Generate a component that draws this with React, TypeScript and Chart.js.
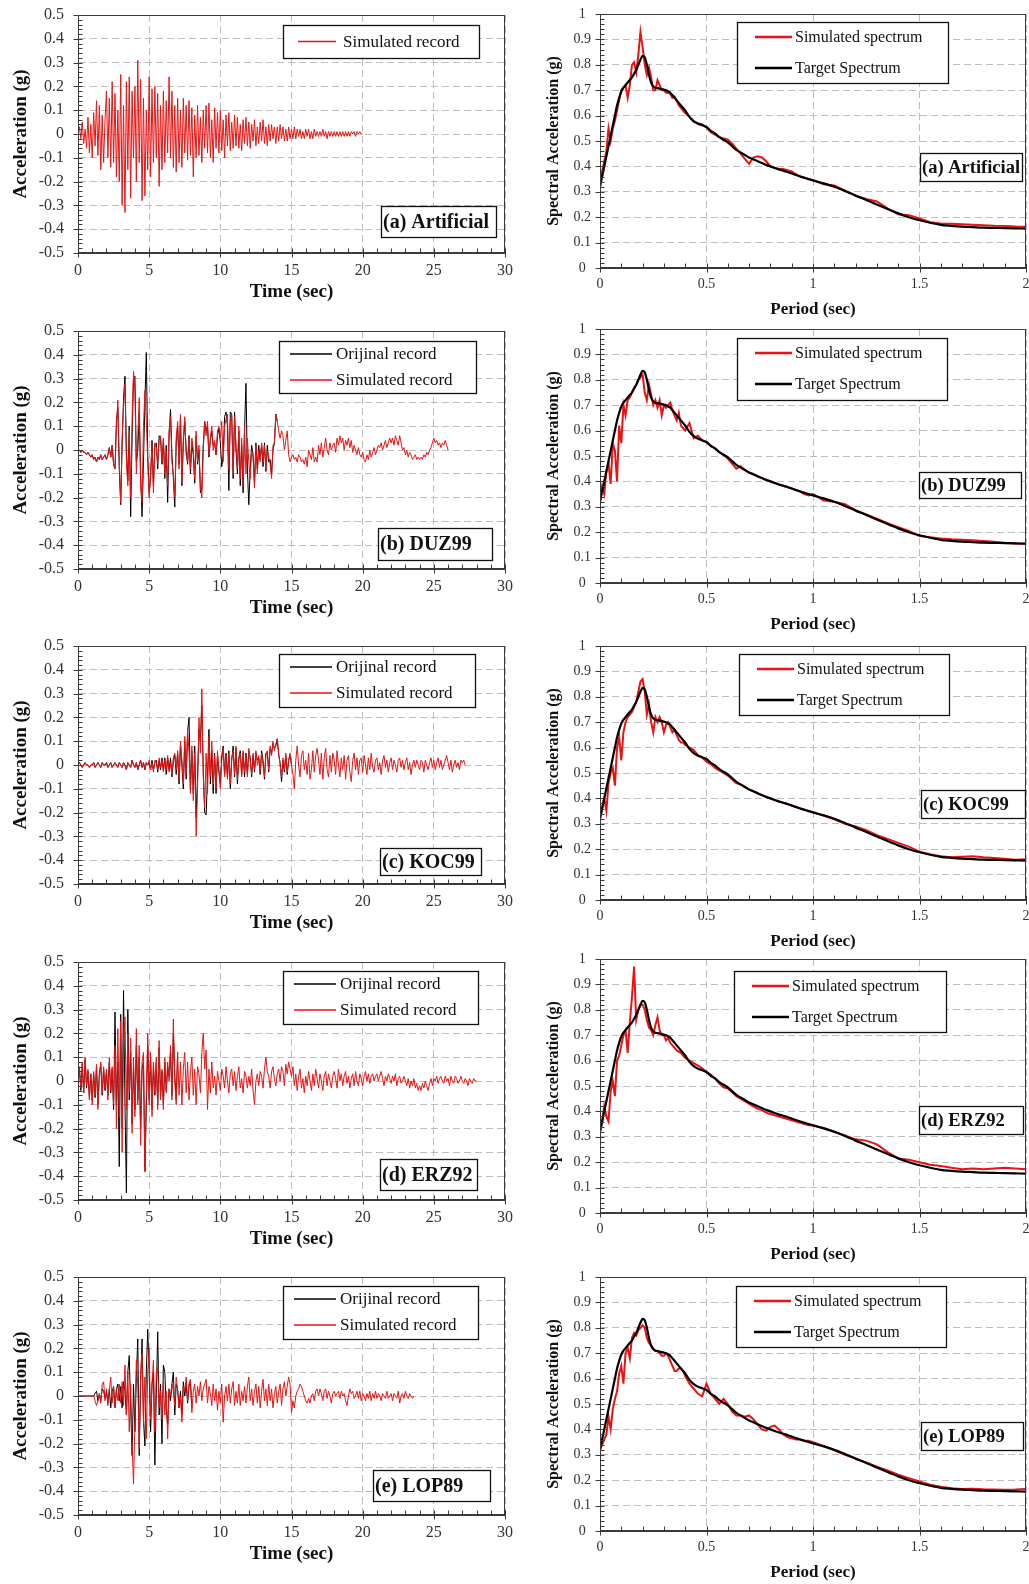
import { useEffect, useRef } from 'react';
import { Chart, registerables } from 'chart.js';

Chart.register(...registerables);

// ---------------- DATA ----------------
// sampling interval of the acceleration records (s)
const DT = 0.1;

const ARTIFICIAL_SIM = [
  0, 0.03, -0.02, 0.05, -0.04, 0.02, -0.06, 0.07, -0.08, 0.04,
  -0.1, 0.09, -0.05, 0.14, -0.09, 0.12, -0.15, 0.08, -0.12, 0.06,
  0.18, -0.1, 0.15, -0.14, 0.22, -0.12, 0.17, -0.18, 0.1, -0.2,
  0.25, -0.3, 0.12, -0.33, 0.22, -0.15, 0.24, -0.27, 0.18, -0.1,
  0.2, -0.2, 0.31, -0.12, 0.23, -0.28, 0.15, -0.26, 0.1, -0.15,
  0.24, -0.18, 0.19, -0.12, 0.2, -0.1, 0.17, -0.22, 0.12, -0.15,
  0.18, -0.12, 0.14, -0.08, 0.24, -0.1, 0.18, -0.14, 0.12, -0.16,
  0.15, -0.12, 0.1, -0.14, 0.15, -0.08, 0.12, -0.11, 0.14, -0.09,
  0.11, -0.18, 0.08, -0.1, 0.12, -0.09, 0.07, -0.12, 0.1, -0.06,
  0.12, -0.08, 0.13, -0.1, 0.06, -0.12, 0.11, -0.06, 0.09, -0.08,
  0.1, -0.07, 0.06, -0.1, 0.08, -0.05, 0.09, -0.07, 0.05, -0.06,
  0.08, -0.05, 0.07, -0.06, 0.04, -0.07, 0.06, -0.04, 0.07, -0.05,
  0.05, -0.06, 0.04, -0.03, 0.06, -0.05, 0.03, -0.04, 0.05, -0.03,
  0.06, -0.04, 0.03, -0.05, 0.04, -0.03, 0.04, -0.02, 0.03, -0.04,
  0.03, -0.03, 0.04, -0.02, 0.03, -0.03, 0.02, -0.03, 0.03, -0.02,
  0.02, -0.02, 0.03, -0.02, 0.02, -0.01, 0.02, -0.02, 0.01, -0.02,
  0.02, -0.01, 0.02, -0.02, 0.01, -0.02, 0.02, -0.01, 0.01, -0.01,
  0.01, -0.01, 0.02, -0.01, 0.01, -0.02, 0.01, -0.01, 0.01, -0.01,
  0.01, -0.01, 0.01, -0.01, 0.01, -0.01, 0.01, -0.01, 0.01, -0.01,
  0.01, -0.01, 0.01, 0, 0.01, -0.01, 0.01, 0, 0.01, 0,
  0,
];

const DUZ99_ORIG = [
  0, 0, -0.01, 0, -0.01, -0.01, -0.02, -0.01, -0.02, -0.03,
  -0.02, -0.04, -0.03, -0.05, -0.03, -0.04, -0.02, -0.04, -0.03, -0.02,
  -0.04, -0.02, 0.01, -0.03, 0.02, -0.06, -0.08, 0.12, 0.18, -0.08,
  -0.23, 0.02, 0.22, 0.31, 0, -0.13, 0.1, -0.28, 0.05, 0.3,
  0.31, -0.05, 0, 0.15, -0.1, -0.28, -0.05, 0.2, 0.41, -0.02,
  -0.18, -0.12, 0.04, -0.15, 0.02, 0.03, -0.08, 0.06, 0.05, -0.06,
  0.04, -0.12, 0.02, -0.22, 0.06, 0.17, -0.02, -0.12, -0.24, 0.03,
  0.1, -0.06, 0.14, -0.15, 0.03, 0.12, 0, -0.06, 0.06, -0.1,
  0.03, -0.02, -0.14, 0.06, -0.06, 0, -0.18, -0.16, 0.02, 0.12,
  0.08, 0.1, -0.03, 0.04, 0.08, 0.02, 0.03, -0.02, 0.06, 0.09,
  0.03, -0.07, -0.02, 0.14, 0.16, 0.1, -0.17, 0.16, 0.15, -0.12,
  0.16, 0, -0.1, 0.08, -0.15, 0.02, -0.18, 0.08, 0.28, -0.08,
  -0.23, -0.08, 0.02, -0.02, -0.14, 0.03, -0.08, 0.02, -0.04, 0.02,
  -0.07, 0.03, -0.09, 0.02, -0.05, -0.04, -0.1, 0, 0.03, 0.15,
  0.12,
];

const DUZ99_SIM = [
  0, 0, -0.01, 0, -0.01, -0.01, -0.02, -0.01, -0.02, -0.03,
  -0.02, -0.04, -0.03, -0.05, -0.03, -0.04, -0.02, -0.04, -0.03, -0.02,
  -0.04, -0.02, 0.01, -0.03, 0.02, -0.06, -0.08, 0.1, 0.21, -0.05,
  -0.22, 0.05, 0.18, 0.28, -0.05, -0.15, 0.08, -0.2, 0.12, 0.33,
  0.25, -0.1, 0.05, 0.22, -0.15, -0.22, 0.1, 0.25, 0.12, -0.05,
  -0.2, -0.1, 0.02, -0.18, 0.03, 0.01, -0.06, 0.04, 0.06, -0.05,
  0.05, -0.1, 0, -0.15, 0.08, 0.14, -0.05, -0.1, -0.2, 0.05,
  0.12, -0.08, 0.15, -0.14, 0.05, 0.14, -0.02, -0.05, 0.06, -0.08,
  0.05, 0, -0.12, 0.08, -0.05, 0.02, -0.15, -0.2, 0, 0.12,
  0.06, 0.12, -0.02, 0.05, 0.1, 0, 0.04, -0.02, 0.08, 0.1,
  0.05, 0.12, -0.05, 0.1, 0.13, 0.15, -0.08, 0.12, 0.14, -0.1,
  0.14, 0.02, -0.08, 0.1, -0.12, 0.05, -0.15, 0.1, -0.1, 0.05,
  -0.05, -0.12, 0, -0.03, -0.16, 0.02, -0.1, 0, -0.05, 0.03,
  -0.05, 0.02, -0.08, 0, -0.03, -0.06, -0.12, 0.02, 0.03, 0.15,
  0.12, 0.08, 0.05, 0.08, 0.06, 0, 0.04, 0.08, -0.02, -0.05,
  -0.03, -0.02, -0.04, -0.03, -0.05, -0.02, -0.03, -0.05, -0.04, -0.06,
  -0.03, -0.07, 0, -0.02, -0.04, 0.01, -0.05, -0.03, -0.05, 0.02,
  -0.02, 0.03, -0.03, 0.01, 0.05, 0, -0.02, 0.03, 0, 0.02,
  0.03, -0.01, 0.05, 0.02, 0.06, 0.03, 0.05, 0, 0.04, 0.02,
  0.05, 0.01, 0.04, -0.01, 0.02, 0, -0.02, 0.01, -0.02, -0.03,
  -0.01, -0.04, -0.05, -0.02, -0.04, 0, -0.03, -0.01, 0.01, -0.02,
  0, 0.02, 0.01, 0.03, 0, 0.02, 0.04, 0.01, 0.03, 0.05,
  0.03, 0.05, 0.02, 0.06, 0.04, 0.02, 0.06, 0.03, 0, 0.01,
  -0.02, 0, -0.03, -0.01, -0.02, -0.04, -0.03, -0.02, -0.04, -0.03,
  -0.04, -0.03, -0.04, -0.02, -0.03, -0.01, -0.02, 0, 0.01, 0.03,
  0.05, 0.03, 0.04, 0.02, 0.03, 0.01, 0.03, 0.02, 0.04, 0.02,
  0,
];

const KOC99_ORIG = [
  0, 0.01, 0, -0.01, 0, 0.01, 0, 0, -0.01, 0,
  0, 0.01, -0.01, 0, 0.01, 0, -0.01, 0.01, 0, 0,
  0.01, -0.01, 0, 0.01, -0.01, 0, 0.01, 0, -0.01, 0.01,
  0, -0.01, 0.01, 0, -0.02, 0.01, 0, -0.01, 0.02, 0,
  -0.01, 0.01, -0.02, 0, 0.02, -0.01, 0.01, -0.02, 0.01, 0,
  0.01, -0.02, 0.02, -0.02, 0.01, 0.02, -0.03, 0.02, -0.02, 0.03,
  -0.02, 0.03, -0.04, 0.03, -0.02, 0.03, -0.05, 0.02, 0.04, -0.04,
  0.05, -0.08, 0.08, 0, -0.1, 0.1, -0.06, 0.14, 0.2, -0.1,
  0.06, -0.12, 0.08, -0.22, -0.05, 0.15, 0.1, 0.25, -0.02, -0.2,
  -0.21, -0.05, 0.15, -0.08, 0.06, -0.12, 0.05, -0.12, 0.04, -0.03,
  -0.08, 0.04, 0.08, -0.04, 0.05, -0.05, 0.06, -0.1, 0.02, 0.08,
  -0.05, 0.07, -0.08, 0.03, 0.06, -0.04, 0.05, -0.05, 0.05, -0.04,
  0.06, 0.03, -0.05, 0.04, -0.03, 0.05, 0.02, 0.03, -0.04, 0.06,
  0.02, -0.06, 0.05, 0.05, -0.03, 0.07, 0.05, 0.09, 0.07, 0.08,
  0.11, 0.04, 0.01, -0.07, 0.02, -0.03, 0.04, -0.04, 0.02, 0.04,
  0,
];

const KOC99_SIM = [
  0, 0.01, 0, -0.01, 0, 0.01, 0, 0, -0.01, 0,
  0, 0.01, -0.01, 0, 0.01, 0, -0.01, 0.01, 0, 0,
  0.01, -0.01, 0, 0.01, -0.01, 0, 0.01, 0, -0.01, 0.01,
  0, -0.01, 0.01, 0, -0.02, 0.01, 0, -0.01, 0.02, 0,
  -0.01, 0.01, -0.02, 0, 0.02, -0.01, 0.01, -0.02, 0.01, 0,
  0.02, -0.02, 0.01, -0.03, 0.02, 0.01, -0.02, 0.03, -0.01, 0.02,
  -0.03, 0.02, -0.02, 0.04, -0.03, 0.01, -0.04, 0.03, 0.05, -0.02,
  0.06, -0.06, 0.1, 0.02, -0.08, 0.12, -0.04, 0.15, 0.05, -0.12,
  0.08, -0.15, 0.05, -0.3, -0.1, 0.2, 0.05, 0.32, -0.05, -0.18,
  0.05, -0.12, 0.12, -0.05, 0.1, -0.08, 0.04, -0.1, 0.06, -0.02,
  -0.1, 0.02, 0.07, -0.05, 0.04, -0.06, 0.05, -0.08, 0.03, 0.06,
  -0.04, 0.08, -0.06, 0.02, 0.05, -0.05, 0.06, -0.03, 0.04, -0.05,
  0.07, 0.02, -0.04, 0.05, -0.02, 0.06, 0, 0.04, -0.03, 0.05,
  0, -0.05, 0.04, 0.06, -0.02, 0.08, 0.04, 0.1, 0.06, 0.09,
  0.11, 0.05, 0, -0.05, 0.03, -0.02, 0.05, -0.03, 0.02, 0.05,
  0, -0.04, -0.1, 0.02, 0.08, 0, -0.05, 0.04, 0.06, -0.02,
  0.02, -0.04, 0.05, -0.06, -0.02, 0.06, -0.03, 0.04, 0.07, 0.02,
  -0.04, 0.05, -0.06, 0.03, 0.07, -0.02, -0.05, 0.04, -0.03, 0.05,
  0.02, -0.04, 0.06, 0, -0.05, 0.03, -0.02, 0.04, -0.06, 0.02,
  0.04, -0.03, -0.07, 0.02, 0.05, -0.02, 0.03, -0.04, 0.02, 0.03,
  -0.03, 0.04, 0, -0.04, 0.03, -0.02, 0.05, -0.01, -0.03, 0.02,
  0.03, -0.02, 0.01, -0.04, 0.02, 0.04, -0.01, 0.02, -0.03, 0.01,
  0.03, -0.02, 0.02, 0, -0.03, 0.02, 0.03, -0.01, 0.02, -0.02,
  0.01, 0.03, -0.02, 0.01, -0.04, 0, 0.02, -0.01, 0.02, 0,
  -0.02, 0.02, 0.01, -0.03, 0.02, 0, -0.02, 0.01, 0.03, -0.01,
  0.02, -0.02, 0.01, 0.03, -0.01, 0.02, -0.02, 0, 0.02, 0.04,
  0.01, -0.02, 0.02, -0.03, 0, 0.02, -0.01, 0.01, -0.02, 0.02,
  0.01, 0.02, 0,
];

const ERZ92_ORIG = [
  0.02, 0.05, -0.04, 0.07, -0.05, 0.09, -0.03, 0.04, -0.07, 0.03,
  -0.08, 0.03, -0.07, 0.06, -0.1, 0.03, 0.07, -0.06, 0.05, -0.04,
  0.04, -0.06, 0.08, -0.05, 0.05, -0.12, 0.29, -0.1, 0.08, -0.36,
  0.28, -0.2, 0.38, -0.1, -0.47, 0.3, -0.08, 0.12, -0.18, 0.06,
  -0.12, 0.15, -0.08, 0.1, -0.2, 0.05, 0.08, -0.38, -0.1, 0.15,
  -0.08, 0.1, -0.12, 0.06, -0.06, 0.08, -0.1, 0.14, -0.06, 0.04,
  -0.1, 0.08, -0.04, 0.06, 0.02, 0.12, -0.06, 0.2, 0.02, -0.08,
  0.12,
];

const ERZ92_SIM = [
  0.02, 0.06, -0.03, 0.08, -0.05, 0.1, -0.02, 0.05, -0.08, 0.03,
  -0.1, 0.04, -0.06, 0.07, -0.12, 0.02, 0.08, -0.05, 0.06, -0.03,
  0.05, -0.08, 0.1, -0.04, 0.06, -0.1, 0.15, -0.2, 0.22, -0.15,
  0.25, -0.3, 0.15, 0.27, -0.12, 0.2, -0.05, 0.18, -0.22, 0.1,
  -0.15, 0.22, -0.1, 0.15, -0.27, 0.08, 0.12, -0.38, -0.05, 0.2,
  -0.1, 0.12, -0.15, 0.08, -0.05, 0.1, -0.12, 0.17, -0.08, 0.05,
  -0.12, 0.1, -0.05, 0.08, 0, 0.15, -0.08, 0.26, 0, -0.1,
  0.12, -0.06, 0.08, -0.1, 0.05, 0.12, -0.05, 0.08, -0.08, 0.04,
  0.1, -0.06, 0.05, -0.1, 0.06, 0.03, -0.05, 0.12, 0.2, 0.05,
  0.13, -0.12, 0.05, -0.05, 0.08, -0.03, 0.02, -0.06, 0.04, 0,
  -0.04, 0.05, 0.02, -0.03, 0.06, 0, -0.05, 0.03, 0.05, -0.02,
  0.04, -0.04, 0.02, 0.06, -0.03, 0.01, -0.05, 0.04, 0.02, -0.03,
  0.02, -0.02, 0.05, -0.04, -0.1, 0, 0.03, -0.02, 0.04, 0.02,
  -0.03, 0.05, 0.1, 0.04, 0.02, -0.03, 0.04, 0.06, 0.01, -0.02,
  0.03, 0.05, 0, 0.06, 0.04, -0.02, 0.07, 0.03, 0.08, 0.05,
  0.02, 0.06, -0.02, 0.03, -0.04, 0.02, 0.05, -0.03, 0.01, -0.05,
  0.02, -0.02, 0.04, 0, -0.04, 0.03, -0.02, 0.05, 0.01, -0.03,
  0.03, 0, -0.04, 0.02, 0.04, -0.02, 0.03, 0, -0.03, 0.02,
  0.04, 0.01, -0.03, 0.05, 0, 0.03, -0.02, 0.02, 0.04, -0.01,
  0.02, -0.03, 0.01, 0.03, -0.02, 0.04, 0, -0.02, 0.03, 0.01,
  -0.02, 0.02, 0.04, 0, 0.03, -0.01, 0.02, 0.03, 0, 0.02,
  0.03, 0, 0.02, 0.04, 0.01, -0.02, 0.02, 0, 0.03, 0.01,
  -0.01, 0.02, 0, 0.03, -0.02, 0.01, 0.02, -0.01, 0, 0.02,
  0, -0.02, 0.01, -0.03, 0, -0.02, 0.01, -0.03, -0.01, -0.04,
  -0.02, -0.04, -0.01, -0.03, 0, -0.02, -0.04, -0.01, 0.01, -0.02,
  0.01, 0, 0.02, -0.01, 0.01, 0.02, 0, -0.01, 0.02, 0,
  0.01, -0.02, 0.02, 0, -0.01, 0.02, 0.01, -0.01, 0, 0.02,
  0, -0.01, 0.01, 0, -0.02, 0.01, 0, -0.01, 0.01, 0,
  0,
];

const LOP89_ORIG = [
  0, 0, 0, 0, 0, 0, 0, 0, 0, 0,
  0, 0, 0.01, 0.02, -0.02, 0.01, -0.02, 0.03, 0.02, -0.01,
  0.02, -0.03, 0.03, -0.05, 0.02, 0.04, -0.05, 0.03, 0.05, -0.02,
  0.04, -0.05, 0.06, 0.02, -0.08, 0.1, 0.17, -0.05, -0.25, 0.05,
  -0.15, 0.08, 0.24, -0.25, 0.05, 0.24, -0.1, -0.21, 0.1, 0.28,
  0.1, -0.15, 0.05, 0.1, -0.29, 0, 0.27, -0.08, 0.05, -0.2,
  0.13, 0.1, -0.05, -0.12, 0.03, -0.02, 0.05, 0.1, -0.08, 0.05,
  0.03, -0.05, 0.02, -0.08, 0.06, 0, 0.05, -0.03, 0.04, 0.06,
  -0.05,
];

const LOP89_SIM = [
  0, 0, 0, 0, 0, 0, 0, 0, 0, 0,
  0, 0, -0.02, -0.04, -0.02, 0.01, -0.03, 0.05, 0.06, -0.02,
  0.03, -0.04, 0.02, 0.08, -0.03, 0.04, -0.05, 0.03, -0.02, 0.05,
  -0.03, 0.06, -0.04, 0.13, -0.08, 0.1, -0.15, 0.05, -0.2, -0.37,
  -0.1, 0.15, 0.05, -0.22, 0.1, 0.18, -0.12, 0.08, -0.18, 0.1,
  0.2, -0.1, 0.05, 0.15, -0.15, 0.1, 0.12, -0.05, 0.02, -0.1,
  0.06, -0.08, 0.02, -0.18, 0.03, 0, 0.05, 0.02, -0.04, 0.08,
  0.02, -0.05, 0, -0.11, 0.04, 0.02, 0.08, -0.02, 0.05, 0.07,
  -0.07, 0.02, 0.05, -0.03, 0.04, 0, 0.06, -0.02, 0.03, 0.05,
  0.07, -0.03, 0.04, 0.01, -0.04, 0.05, -0.02, 0.03, -0.06, 0.02,
  -0.03, 0.05, -0.11, 0, 0.04, -0.02, 0.05, -0.03, 0.03, 0.06,
  -0.04, 0.02, -0.03, 0.05, -0.04, 0.02, -0.02, 0.04, -0.03, 0.04,
  0.08, -0.02, 0.03, -0.04, 0.02, 0.05, -0.03, 0.04, -0.05, 0.02,
  0.07, -0.02, 0.03, -0.04, 0.05, -0.02, 0.03, -0.05, 0.01, 0.04,
  -0.03, 0.02, 0.05, -0.04, 0.03, 0.06, 0, 0.04, 0.08, 0.05,
  -0.07, -0.02, -0.05, 0, 0.02, 0.03, 0.05, 0.04, 0.02, 0,
  -0.02, -0.03, -0.01, -0.03, 0, 0.01, -0.02, 0.02, 0.03, 0,
  0.03, 0.01, -0.02, 0.02, 0.03, -0.01, 0.02, 0, -0.03, 0.01,
  0.02, 0, 0.01, 0.02, -0.01, 0.02, 0, 0.01, -0.02, -0.04,
  0, 0.03, 0.01, 0.02, -0.01, 0, 0.02, -0.01, 0.02, -0.02,
  0.01, 0, -0.02, 0.01, -0.01, 0.02, -0.02, 0.01, -0.01, 0.02,
  -0.01, 0.01, 0, -0.02, 0.01, 0, -0.01, 0.02, -0.01, 0,
  0.01, -0.02, 0.01, 0, -0.01, 0.02, -0.03, 0, 0.01, -0.01,
  0.02, 0, -0.01, 0.01, 0, -0.01, 0,
];

// Spectra: periods (s)
const PERIODS = [
  0, 0.01, 0.02, 0.03, 0.04, 0.05, 0.06, 0.07, 0.08, 0.09,
  0.1, 0.11, 0.12, 0.13, 0.14, 0.15, 0.16, 0.17, 0.18, 0.19,
  0.2, 0.21, 0.22, 0.23, 0.24, 0.25, 0.26, 0.27, 0.28, 0.29,
  0.3, 0.31, 0.32, 0.33, 0.34, 0.35, 0.36, 0.37, 0.38, 0.39,
  0.4,
  0.42, 0.44, 0.46, 0.48, 0.5, 0.52, 0.54, 0.56, 0.58, 0.6,
  0.62, 0.64, 0.66, 0.68, 0.7, 0.72, 0.74, 0.76, 0.78, 0.8,
  0.82, 0.84, 0.86, 0.88, 0.9, 0.92, 0.94, 0.96, 0.98, 1.0,
  1.05, 1.1, 1.15, 1.2, 1.25, 1.3, 1.35, 1.4, 1.45, 1.5,
  1.55, 1.6, 1.65, 1.7, 1.75, 1.8, 1.85, 1.9, 1.95, 2.0,
];

const TARGET_SPECTRUM = [
  0.32, 0.36, 0.40, 0.44, 0.48, 0.52, 0.56, 0.60, 0.64, 0.67,
  0.695, 0.71, 0.72, 0.73, 0.74, 0.75, 0.765, 0.78, 0.80, 0.82,
  0.835, 0.83, 0.80, 0.76, 0.73, 0.715, 0.71, 0.708, 0.706, 0.704,
  0.702, 0.70, 0.695, 0.69, 0.68, 0.67, 0.66, 0.65, 0.64, 0.63,
  0.62,
  0.595, 0.578, 0.568, 0.562, 0.555, 0.54, 0.53, 0.515, 0.505, 0.495,
  0.48, 0.465, 0.455, 0.445, 0.435, 0.428, 0.42, 0.413, 0.406, 0.40,
  0.394, 0.388, 0.383, 0.378, 0.372, 0.366, 0.36, 0.355, 0.35, 0.345,
  0.333, 0.32, 0.303, 0.285, 0.268, 0.25, 0.232, 0.215, 0.2, 0.188,
  0.178, 0.17, 0.166, 0.163, 0.161, 0.159, 0.158, 0.157, 0.156, 0.155,
];

const SPEC_ARTIFICIAL = [
  0.32, 0.38, 0.42, 0.46, 0.55, 0.50, 0.55, 0.58, 0.62, 0.66,
  0.70, 0.71, 0.72, 0.67, 0.72, 0.80, 0.81, 0.77, 0.84, 0.93,
  0.87, 0.80, 0.76, 0.79, 0.75, 0.70, 0.70, 0.74, 0.72, 0.70,
  0.70, 0.69, 0.69, 0.685, 0.67, 0.675, 0.66, 0.64, 0.63, 0.62,
  0.61,
  0.595, 0.575, 0.57, 0.565, 0.553, 0.535, 0.525, 0.515, 0.51, 0.505,
  0.49, 0.47, 0.45, 0.43, 0.41, 0.435, 0.44, 0.435, 0.42, 0.40,
  0.395, 0.39, 0.39, 0.385, 0.38, 0.37, 0.36, 0.355, 0.35, 0.345,
  0.33, 0.325, 0.305, 0.285, 0.272, 0.262, 0.235, 0.212, 0.208, 0.195,
  0.18, 0.175, 0.174, 0.172, 0.17, 0.168, 0.166, 0.165, 0.163, 0.162,
];

const SPEC_DUZ99 = [
  0.32, 0.38, 0.35, 0.44, 0.47, 0.39, 0.55, 0.52, 0.40, 0.62,
  0.55, 0.70, 0.66, 0.72, 0.73, 0.75, 0.77, 0.78, 0.80, 0.81,
  0.82, 0.75, 0.72, 0.78, 0.74, 0.70, 0.72, 0.69, 0.72, 0.66,
  0.70, 0.69, 0.70, 0.71, 0.68, 0.66, 0.64, 0.67, 0.62, 0.61,
  0.60,
  0.63, 0.57, 0.58, 0.56, 0.555, 0.54, 0.53, 0.515, 0.505, 0.49,
  0.47, 0.45, 0.46, 0.445, 0.435, 0.428, 0.42, 0.413, 0.406, 0.40,
  0.394, 0.388, 0.383, 0.378, 0.372, 0.366, 0.36, 0.35, 0.345, 0.35,
  0.325, 0.32, 0.31, 0.287, 0.27, 0.253, 0.236, 0.22, 0.205, 0.185,
  0.18, 0.175, 0.172, 0.17, 0.168, 0.165, 0.162, 0.158, 0.156, 0.155,
];

const SPEC_KOC99 = [
  0.32, 0.36, 0.40, 0.35, 0.46, 0.50, 0.52, 0.45, 0.60, 0.64,
  0.55, 0.66, 0.70, 0.72, 0.73, 0.74, 0.76, 0.78, 0.82, 0.86,
  0.87, 0.82, 0.73, 0.77, 0.70, 0.66, 0.72, 0.70, 0.72, 0.70,
  0.66, 0.69, 0.70, 0.68, 0.66, 0.67, 0.65, 0.63, 0.62, 0.62,
  0.61,
  0.60, 0.59, 0.57, 0.56, 0.545, 0.535, 0.52, 0.51, 0.50, 0.49,
  0.475, 0.46, 0.455, 0.445, 0.435, 0.428, 0.42, 0.413, 0.406, 0.40,
  0.394, 0.388, 0.383, 0.378, 0.372, 0.366, 0.36, 0.355, 0.35, 0.345,
  0.333, 0.318, 0.30, 0.29, 0.275, 0.255, 0.24, 0.225, 0.21, 0.19,
  0.18, 0.172, 0.168, 0.17, 0.172, 0.168, 0.165, 0.162, 0.158, 0.16,
];

const SPEC_ERZ92 = [
  0.32, 0.36, 0.42, 0.38, 0.36, 0.48, 0.52, 0.46, 0.60, 0.62,
  0.66, 0.70, 0.72, 0.63, 0.75, 0.85, 0.97, 0.76, 0.80, 0.82,
  0.82, 0.80, 0.76, 0.73, 0.72, 0.70, 0.74, 0.77, 0.72, 0.70,
  0.70, 0.68, 0.69, 0.67, 0.66, 0.65, 0.64, 0.635, 0.63, 0.62,
  0.61,
  0.60, 0.59, 0.58, 0.57, 0.555, 0.545, 0.53, 0.51, 0.495, 0.49,
  0.475, 0.46, 0.45, 0.44, 0.43, 0.42, 0.41, 0.405, 0.395, 0.39,
  0.385, 0.38, 0.375, 0.37, 0.365, 0.36, 0.355, 0.35, 0.345, 0.345,
  0.335, 0.32, 0.305, 0.29, 0.285, 0.27, 0.24, 0.215, 0.21, 0.20,
  0.19, 0.185, 0.178, 0.172, 0.175, 0.172, 0.175, 0.178, 0.175, 0.172,
];

const SPEC_LOP89 = [
  0.32, 0.34, 0.36, 0.38, 0.45, 0.40, 0.48, 0.52, 0.55, 0.62,
  0.65, 0.58, 0.70, 0.72, 0.68, 0.76, 0.78, 0.77, 0.79, 0.80,
  0.81, 0.80, 0.76, 0.74, 0.73, 0.72, 0.71, 0.71, 0.70, 0.69,
  0.69, 0.70, 0.69, 0.67, 0.65, 0.63, 0.63, 0.64, 0.64, 0.63,
  0.61,
  0.58, 0.56, 0.54, 0.53, 0.58, 0.54, 0.52, 0.50, 0.52, 0.50,
  0.47, 0.455, 0.455, 0.45, 0.455, 0.44, 0.42, 0.40, 0.395, 0.41,
  0.415, 0.40, 0.38, 0.37, 0.365, 0.36, 0.36, 0.355, 0.355, 0.35,
  0.335, 0.318, 0.30, 0.285, 0.27, 0.253, 0.238, 0.222, 0.208, 0.195,
  0.182, 0.174, 0.168, 0.165, 0.166, 0.164, 0.163, 0.162, 0.163, 0.165,
];

const RECORD_LABELS = ['(a) Artificial', '(b) DUZ99', '(c) KOC99', '(d) ERZ92', '(e) LOP89'];

// ---------------- STYLE ----------------
const FONT = "'Liberation Serif', 'Times New Roman', serif";
const RED = '#ee1111';
const AXIS = '#3a3a3a';
const GRID = '#bdbdbd';
const TICK = '#333333';

type Box = [number, number, number, number];

interface Deco {
  xMin: number; xMax: number; xMinorN: number; xMajorEvery: number;
  yMin: number; yMax: number; yMinorN: number; yMajorEvery: number;
  legendBox: Box;
  legendItems: { text: string; color: string; y: number }[];
  legendLine: [number, number];
  legendTextX: number;
  legendFont: number;
  legendLineWidth: number;
  labelBox: Box;
  labelText: string;
  labelFont: number;
}

function decoPlugin(d: Deco) {
  return {
    id: 'deco',
    afterDraw(chart: any) {
      const { ctx, chartArea: ca, scales } = chart;
      const xs = scales.x;
      const ys = scales.y;
      ctx.save();
      const L = Math.round(ca.left) + 0.5;
      const T = Math.round(ca.top) + 0.5;
      const R = Math.round(ca.right) - 0.5;
      const B = Math.round(ca.bottom) - 0.5;
      ctx.strokeStyle = AXIS;
      ctx.lineWidth = 1;
      ctx.beginPath();
      for (let i = 0; i <= d.xMinorN; i++) {
        const v = d.xMin + ((d.xMax - d.xMin) * i) / d.xMinorN;
        const px = Math.round(xs.getPixelForValue(v)) + 0.5;
        const major = i % d.xMajorEvery === 0;
        ctx.moveTo(px, B + (major ? 5 : 0));
        ctx.lineTo(px, B - 4);
      }
      for (let i = 0; i <= d.yMinorN; i++) {
        const v = d.yMin + ((d.yMax - d.yMin) * i) / d.yMinorN;
        const py = Math.round(ys.getPixelForValue(v)) + 0.5;
        const major = i % d.yMajorEvery === 0;
        ctx.moveTo(L - (major ? 5 : 0), py);
        ctx.lineTo(L + 4, py);
      }
      ctx.stroke();
      ctx.strokeStyle = AXIS;
      ctx.lineWidth = 1;
      ctx.strokeRect(L, T, R - L, B - T);

      const [lx, ly, lw, lh] = d.legendBox;
      ctx.fillStyle = '#ffffff';
      ctx.fillRect(lx, ly, lw, lh);
      ctx.strokeStyle = '#111';
      ctx.lineWidth = 1.3;
      ctx.strokeRect(lx + 0.5, ly + 0.5, lw, lh);
      ctx.font = `${d.legendFont}px ${FONT}`;
      ctx.textBaseline = 'middle';
      ctx.textAlign = 'left';
      for (const it of d.legendItems) {
        ctx.strokeStyle = it.color;
        ctx.lineWidth = d.legendLineWidth;
        ctx.beginPath();
        ctx.moveTo(d.legendLine[0], it.y);
        ctx.lineTo(d.legendLine[1], it.y);
        ctx.stroke();
        ctx.fillStyle = '#111';
        ctx.fillText(it.text, d.legendTextX, it.y + 1);
      }

      const [bx, by, bw, bh] = d.labelBox;
      ctx.fillStyle = '#ffffff';
      ctx.fillRect(bx, by, bw, bh);
      ctx.strokeStyle = '#111';
      ctx.lineWidth = 1.3;
      ctx.strokeRect(bx + 0.5, by + 0.5, bw, bh);
      ctx.font = `bold ${d.labelFont}px ${FONT}`;
      ctx.fillStyle = '#111';
      ctx.fillText(d.labelText, bx + 2, by + bh / 2 + 1);
      ctx.restore();
    },
  };
}

const fmt = (v: any) => String(Math.round(Number(v) * 10) / 10);

function toPoints(values: number[]) {
  return values.map((v, i) => ({ x: i * DT, y: v }));
}

function zipPoints(xs: number[], ys: number[]) {
  return ys.map((v, i) => ({ x: xs[i], y: v }));
}

const accTickFont = { family: FONT, size: 16 };
const specTickFont = { family: FONT, size: 14 };

// ---------------- PANEL SETUPS ----------------
const LEFT_TOPS = [0, 316, 631, 947, 1262];
const RIGHT_TOPS = [0, 315, 632, 945, 1263];

const ACC_SIM = [ARTIFICIAL_SIM, DUZ99_SIM, KOC99_SIM, ERZ92_SIM, LOP89_SIM];
const ACC_ORIG = [null, DUZ99_ORIG, KOC99_ORIG, ERZ92_ORIG, LOP89_ORIG];
const SPEC_SIM = [SPEC_ARTIFICIAL, SPEC_DUZ99, SPEC_KOC99, SPEC_ERZ92, SPEC_LOP89];

const ACC_LEGEND_BOX: Box[] = [
  [283, 25, 196, 33],
  [279, 25, 197, 52],
  [279, 23, 196, 53],
  [283, 24, 195, 53],
  [283, 24, 195, 53],
];
const ACC_LABEL_BOX: Box[] = [
  [381, 206, 115, 31],
  [378, 212, 114, 32],
  [380, 217, 101, 27],
  [380, 212, 97, 31],
  [373, 208, 117, 31],
];
const SPEC_LEGEND_BOX: Box[] = [
  [217, 22, 211, 61],
  [217, 23, 210, 62],
  [219, 22, 210, 61],
  [214, 26, 212, 61],
  [216, 23, 210, 61],
];
const SPEC_LABEL_BOX: Box[] = [
  [400, 153, 102, 28],
  [399, 157, 102, 26],
  [401, 158, 104, 28],
  [399, 161, 104, 28],
  [401, 159, 102, 28],
];

function accConfig(k: number) {
  const orig = ACC_ORIG[k];
  const datasets: any[] = [
    { data: toPoints(ACC_SIM[k]), borderColor: RED, borderWidth: 1, pointRadius: 0, tension: 0 },
  ];
  if (orig) {
    datasets.push({ data: toPoints(orig), borderColor: '#000000', borderWidth: 1, pointRadius: 0, tension: 0 });
  }
  const lb = ACC_LEGEND_BOX[k];
  const items = orig
    ? [
        { text: 'Orijinal record', color: '#000000', y: lb[1] + 13 },
        { text: 'Simulated record', color: RED, y: lb[1] + 39 },
      ]
    : [{ text: 'Simulated record', color: RED, y: lb[1] + lb[3] / 2 }];
  const deco: Deco = {
    xMin: 0, xMax: 30, xMinorN: 30, xMajorEvery: 5,
    yMin: -0.5, yMax: 0.5, yMinorN: 50, yMajorEvery: 5,
    legendBox: lb,
    legendItems: items,
    legendLine: orig ? [lb[0] + 11, lb[0] + 53] : [lb[0] + 15, lb[0] + 53],
    legendTextX: orig ? lb[0] + 57 : lb[0] + 60,
    legendFont: 17,
    legendLineWidth: 1.5,
    labelBox: ACC_LABEL_BOX[k],
    labelText: RECORD_LABELS[k],
    labelFont: 20,
  };
  return {
    type: 'line',
    data: { datasets },
    options: {
      animation: false,
      responsive: false,
      events: [],
      layout: { padding: { left: 0, top: 15, right: 15, bottom: 0 } },
      plugins: { legend: { display: false }, tooltip: { enabled: false } },
      scales: {
        x: {
          type: 'linear', min: 0, max: 30,
          afterFit: (s: any) => { s.height = 65; s.paddingLeft = 0; s.paddingRight = 0; },
          ticks: { stepSize: 5, padding: 8, color: TICK, font: accTickFont, callback: fmt, maxRotation: 0, autoSkip: false },
          grid: { color: GRID, drawTicks: false, lineWidth: 1 },
          border: { display: true, color: AXIS, dash: [7, 4] },
          title: { display: true, text: 'Time (sec)', color: '#111', font: { family: FONT, size: 19, weight: 'bold' }, padding: { top: 0, bottom: 15 } },
        },
        y: {
          type: 'linear', min: -0.5, max: 0.5,
          afterFit: (s: any) => { s.width = 78; s.paddingTop = 0; s.paddingBottom = 0; },
          ticks: { stepSize: 0.1, padding: 14, color: TICK, font: accTickFont, callback: fmt, autoSkip: false },
          grid: { color: GRID, drawTicks: false, lineWidth: 1 },
          border: { display: true, color: AXIS, dash: [7, 4] },
          title: { display: true, text: 'Acceleration (g)', color: '#111', font: { family: FONT, size: 19, weight: 'bold' }, padding: { top: 10, bottom: 0 } },
        },
      },
    },
    plugins: [decoPlugin(deco)],
  };
}

function specConfig(k: number) {
  const datasets: any[] = [
    { data: zipPoints(PERIODS, TARGET_SPECTRUM), borderColor: '#000000', borderWidth: 2.2, pointRadius: 0, cubicInterpolationMode: 'monotone' },
    { data: zipPoints(PERIODS, SPEC_SIM[k]), borderColor: RED, borderWidth: 2, pointRadius: 0, tension: 0 },
  ];
  const lb = SPEC_LEGEND_BOX[k];
  const deco: Deco = {
    xMin: 0, xMax: 2, xMinorN: 20, xMajorEvery: 5,
    yMin: 0, yMax: 1, yMinorN: 50, yMajorEvery: 5,
    legendBox: lb,
    legendItems: [
      { text: 'Simulated spectrum', color: RED, y: lb[1] + 15 },
      { text: 'Target Spectrum', color: '#000000', y: lb[1] + 46 },
    ],
    legendLine: [lb[0] + 18, lb[0] + 55],
    legendTextX: lb[0] + 58,
    legendFont: 16,
    legendLineWidth: 2.5,
    labelBox: SPEC_LABEL_BOX[k],
    labelText: RECORD_LABELS[k],
    labelFont: 18.5,
  };
  return {
    type: 'line',
    data: { datasets },
    options: {
      animation: false,
      responsive: false,
      events: [],
      layout: { padding: { left: 0, top: 14, right: 3, bottom: 0 } },
      plugins: { legend: { display: false }, tooltip: { enabled: false } },
      scales: {
        x: {
          type: 'linear', min: 0, max: 2,
          afterFit: (s: any) => { s.height = 52; s.paddingLeft = 0; s.paddingRight = 0; },
          ticks: { stepSize: 0.5, padding: 8, color: TICK, font: specTickFont, callback: fmt, maxRotation: 0, autoSkip: false },
          grid: { color: GRID, drawTicks: false, lineWidth: 1 },
          border: { display: true, color: AXIS, dash: [7, 4] },
          title: { display: true, text: 'Period (sec)', color: '#111', font: { family: FONT, size: 17, weight: 'bold' }, padding: { top: 0, bottom: 0 } },
        },
        y: {
          type: 'linear', min: 0, max: 1,
          afterFit: (s: any) => { s.width = 80; s.paddingTop = 0; s.paddingBottom = 0; },
          ticks: { stepSize: 0.1, padding: 9, crossAlign: 'center', color: TICK, font: specTickFont, callback: fmt, autoSkip: false },
          grid: { color: GRID, drawTicks: false, lineWidth: 1 },
          border: { display: true, color: AXIS, dash: [7, 4] },
          title: { display: true, text: 'Spectral Acceleration (g)', color: '#111', font: { family: FONT, size: 16, weight: 'bold' }, padding: { top: 24, bottom: 0 } },
        },
      },
    },
    plugins: [decoPlugin(deco)],
  };
}

function Panel(props: { left: number; top: number; width: number; height: number; make: () => any }) {
  const ref = useRef<HTMLCanvasElement | null>(null);
  useEffect(() => {
    if (!ref.current) return;
    const chart = new Chart(ref.current, props.make());
    return () => chart.destroy();
  }, []);
  return (
    <canvas
      ref={ref}
      width={props.width}
      height={props.height}
      style={{ position: 'absolute', left: props.left, top: props.top, width: props.width, height: props.height }}
    />
  );
}

export default function App() {
  return (
    <div style={{ position: 'absolute', left: 0, top: 0, width: 1029, height: 1584, background: '#ffffff', overflow: 'hidden' }}>
      {LEFT_TOPS.map((t, k) => (
        <Panel key={'a' + k} left={0} top={t} width={520} height={318} make={() => accConfig(k)} />
      ))}
      {RIGHT_TOPS.map((t, k) => (
        <Panel key={'s' + k} left={520} top={t} width={509} height={320} make={() => specConfig(k)} />
      ))}
    </div>
  );
}
